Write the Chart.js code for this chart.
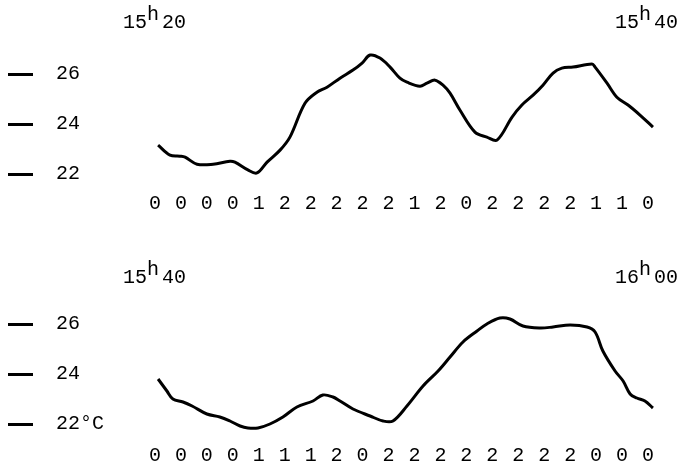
<!DOCTYPE html>
<html>
<head>
<meta charset="utf-8">
<script src="https://cdn.jsdelivr.net/npm/chart.js@4"></script>
<style>
body { margin: 0; background: #fff; }
canvas { display: block; }
</style>
</head>
<body>
<canvas id="chartTop" width="679" height="234"></canvas>
<canvas id="chartBottom" width="679" height="234"></canvas>
<script>
// labels under each record
var xLabelsTop = ["0","0","0","0","1","2","2","2","2","2","1","2","0","2","2","2","2","1","1","0"];
var xLabelsBottom = ["0","0","0","0","1","1","1","2","0","2","2","2","2","2","2","2","2","0","0","0"];
var yTicks = [22, 24, 26];
var yLabelsTop = ["22", "24", "26"];
var yLabelsBottom = ["22°C", "24", "26"];
var timesTop = [["15", "20"], ["15", "40"]];
var timesBottom = [["15", "40"], ["16", "00"]];

// temperature trace, position along the label row / degrees C
var topX = [0.12,0.58,0.96,1.16,1.62,2.24,2.89,3.08,3.58,3.93,4.32,4.82,5.20,5.78,6.24,6.63,7.13,7.63,7.98,8.29,8.67,9.06,9.44,9.71,10.21,10.48,10.79,11.10,11.37,11.75,12.33,12.79,13.18,13.76,14.14,14.57,14.95,15.34,15.68,16.11,16.84,16.96,17.42,17.80,18.23,18.69,19.19];
var topT = [23.15,22.75,22.71,22.67,22.39,22.39,22.51,22.47,22.16,22.04,22.47,22.95,23.47,24.82,25.26,25.46,25.82,26.14,26.42,26.74,26.62,26.26,25.82,25.66,25.50,25.62,25.74,25.54,25.22,24.55,23.67,23.47,23.35,24.27,24.75,25.14,25.54,26.02,26.22,26.26,26.38,26.26,25.62,25.06,24.75,24.35,23.87];
var bottomX = [0.12,0.46,0.69,1.08,1.43,2.00,2.50,2.89,3.28,3.58,3.97,4.43,4.93,5.47,6.09,6.47,6.86,7.13,7.63,8.29,8.79,9.17,9.71,10.33,10.91,11.37,11.87,12.41,12.79,13.29,13.68,14.18,14.84,15.34,16.00,16.65,16.96,17.26,17.73,18.04,18.31,18.57,18.88,19.19];
var bottomT = [23.80,23.32,23.00,22.88,22.72,22.40,22.28,22.12,21.92,21.84,21.84,22.00,22.28,22.68,22.92,23.16,23.08,22.92,22.60,22.32,22.12,22.12,22.72,23.52,24.12,24.68,25.28,25.72,26.00,26.24,26.20,25.92,25.84,25.88,25.96,25.88,25.68,24.92,24.12,23.72,23.20,23.04,22.92,22.64];

var FONT = "'Liberation Mono', monospace";

// dashes left of the y labels and the clock times
var marks = {
    id: "marks",
    afterDraw: function (chart) {
        var ctx = chart.ctx;
        var y = chart.scales.y;
        var o = chart.options.plugins.marks;
        ctx.save();
        ctx.strokeStyle = "#000";
        ctx.lineWidth = 3;
        yTicks.forEach(v => {
            var py = Math.round(y.getPixelForValue(v)) + 0.5;
            ctx.beginPath();
            ctx.moveTo(8, py);
            ctx.lineTo(33, py);
            ctx.stroke();
        });
        ctx.fillStyle = "#000";
        ctx.font = "20px " + FONT;
        ctx.textBaseline = "alphabetic";
        o.times.forEach((t, i) => {
            var x = o.timeX[i];
            ctx.fillText(t[0], x, o.base);
            ctx.fillText("h", x + 24, o.base - 8);
            ctx.fillText(t[1], x + 39, o.base);
        });
        ctx.restore();
    }
};

function MakeChart(id, xs, ts, xLabels, yLabels, times, set) {
    var points = xs.map((x, i) => ({ x: x, y: ts[i] }));
    new Chart(document.getElementById(id), {
        type: "line",
        data: {
            datasets: [{
                data: points,
                borderColor: "#000",
                borderWidth: 3,
                pointRadius: 0,
                tension: 0.35,
                fill: false,
                clip: false
            }]
        },
        options: {
            responsive: false,
            animation: false,
            layout: { padding: { left: 56, right: 18, top: set.padTop, bottom: 0 } },
            plugins: {
                legend: { display: false },
                tooltip: { enabled: false },
                marks: { times: times, timeX: [123, 615], base: set.timeBase }
            },
            scales: {
                x: {
                    type: "linear",
                    min: -0.5,
                    max: 19.5,
                    grid: { display: false, drawTicks: false },
                    border: { display: false },
                    afterBuildTicks: s => { s.ticks = xLabels.map((l, i) => ({ value: i })); },
                    afterFit: s => { s.height = set.xHeight; },
                    ticks: {
                        autoSkip: false,
                        maxRotation: 0,
                        padding: set.xPad,
                        color: "#000",
                        font: { family: FONT, size: 20 },
                        callback: v => xLabels[v]
                    }
                },
                y: {
                    min: 21.5,
                    max: 27.5,
                    grid: { display: false, drawTicks: false },
                    border: { display: false },
                    afterBuildTicks: s => { s.ticks = yTicks.map(v => ({ value: v })); },
                    afterFit: s => { s.width = 86; },
                    ticks: {
                        crossAlign: "far",
                        color: "#000",
                        font: { family: FONT, size: 20 },
                        callback: v => yLabels[yTicks.indexOf(v)]
                    }
                }
            }
        },
        plugins: [marks]
    });
}

MakeChart("chartTop", topX, topT, xLabelsTop, yLabelsTop, timesTop,
    { padTop: 36, xHeight: 47.5, xPad: 5, timeBase: 28 });
MakeChart("chartBottom", bottomX, bottomT, xLabelsBottom, yLabelsBottom, timesBottom,
    { padTop: 52.5, xHeight: 31.5, xPad: 7, timeBase: 49 });
</script>
</body>
</html>
